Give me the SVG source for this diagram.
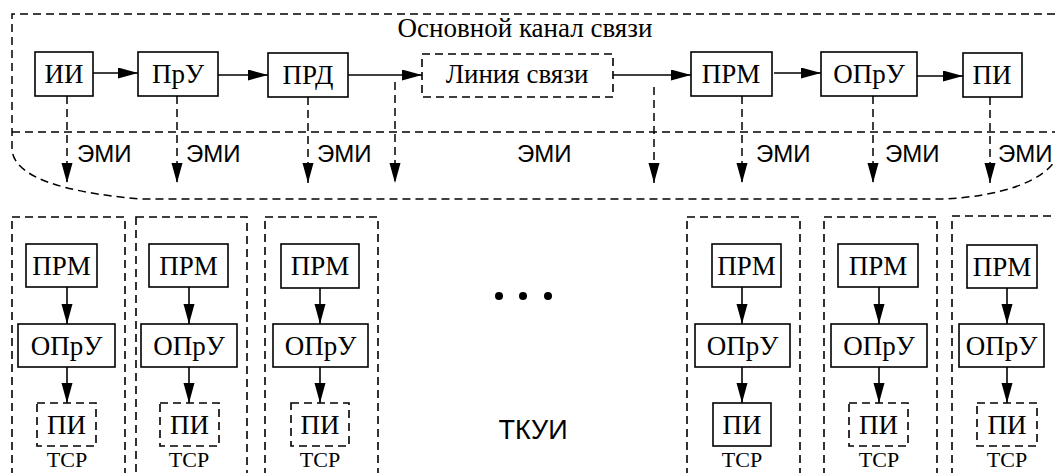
<svg xmlns="http://www.w3.org/2000/svg" width="1055" height="473" viewBox="0 0 1055 473">
<style>
.bx{fill:#fff;stroke:#000;stroke-width:1.6}
.dbx{fill:#fff;stroke:#000;stroke-width:1.6;stroke-dasharray:8 5}
.col{fill:none;stroke:#000;stroke-width:1.6;stroke-dasharray:8 5}
.dl{fill:none;stroke:#000;stroke-width:1.5;stroke-dasharray:8 5}
.ln{fill:none;stroke:#000;stroke-width:1.6}
.t{font-family:"Liberation Serif","Times New Roman","DejaVu Serif",serif;font-size:27px;text-anchor:middle;fill:#000}
.s{font-family:"Liberation Sans",Arial,sans-serif;font-size:24px;fill:#000}
.tc{font-family:"Liberation Serif","Times New Roman","DejaVu Serif",serif;font-size:22px;text-anchor:middle;fill:#000}
</style>
<defs>
<marker id="ah" markerUnits="userSpaceOnUse" markerWidth="20" markerHeight="12" refX="20" refY="5.5" orient="auto">
<path d="M0,0 L20,5.5 L0,11 z" fill="#000"/>
</marker>
</defs>
<rect width="1055" height="473" fill="#fff"/>
<g id="main-channel">
<path class="dl" d="M1055,14 H12 V148 C12,176 60,192 140,199 H945 C1000,196 1045,182 1058,156"/>
<path class="dl" d="M12,132 H1055"/>
<text class="t" x="525" y="37">Основной канал связи</text>
</g>
<g id="connectors">
<path class="ln" d="M93,73 H138" marker-end="url(#ah)"/>
<path class="ln" d="M218,75 H268" marker-end="url(#ah)"/>
<path class="ln" d="M348,75 H422" marker-end="url(#ah)"/>
<path class="ln" d="M613,75 H691" marker-end="url(#ah)"/>
<path class="ln" d="M774,73 H821" marker-end="url(#ah)"/>
<path class="ln" d="M917,76 H963" marker-end="url(#ah)"/>
<path class="dl" d="M67,96 V183" marker-end="url(#ah)"/>
<path class="dl" d="M177,96 V183" marker-end="url(#ah)"/>
<path class="dl" d="M308,97 V183" marker-end="url(#ah)"/>
<path class="dl" d="M395,82 V183" marker-end="url(#ah)"/>
<path class="dl" d="M654,87 V183" marker-end="url(#ah)"/>
<path class="dl" d="M742,96 V183" marker-end="url(#ah)"/>
<path class="dl" d="M873,96 V183" marker-end="url(#ah)"/>
<path class="dl" d="M990,97 V183" marker-end="url(#ah)"/>
<path class="ln" d="M67,287 V324" marker-end="url(#ah)"/>
<path class="ln" d="M67,367 V403" marker-end="url(#ah)"/>
<path class="ln" d="M189,287 V324" marker-end="url(#ah)"/>
<path class="ln" d="M189,367 V403" marker-end="url(#ah)"/>
<path class="ln" d="M320,288 V324" marker-end="url(#ah)"/>
<path class="ln" d="M320,367 V403" marker-end="url(#ah)"/>
<path class="ln" d="M742,287 V324" marker-end="url(#ah)"/>
<path class="ln" d="M742,367 V403" marker-end="url(#ah)"/>
<path class="ln" d="M879,287 V324" marker-end="url(#ah)"/>
<path class="ln" d="M879,367 V403" marker-end="url(#ah)"/>
<path class="ln" d="M1007,288 V324" marker-end="url(#ah)"/>
<path class="ln" d="M1007,367 V403" marker-end="url(#ah)"/>
</g>
<g id="emi-labels">
<text class="s" x="77" y="162">ЭМИ</text>
<text class="s" x="186" y="162">ЭМИ</text>
<text class="s" x="317" y="162">ЭМИ</text>
<text class="s" x="517" y="162">ЭМИ</text>
<text class="s" x="756" y="162">ЭМИ</text>
<text class="s" x="885" y="162">ЭМИ</text>
<text class="s" x="998" y="162">ЭМИ</text>
</g>
<g id="n-ii"><rect class="bx" x="35" y="52" width="58" height="44"/><text class="t" x="64" y="83">ИИ</text></g>
<g id="n-pru"><rect class="bx" x="138" y="52" width="80" height="44"/><text class="t" x="178" y="83">ПрУ</text></g>
<g id="n-prd"><rect class="bx" x="268" y="53" width="80" height="44"/><text class="t" x="308" y="84">ПРД</text></g>
<g id="n-line"><rect class="dbx" x="422" y="54" width="191" height="43"/><text class="t" x="517" y="83">Линия связи</text></g>
<g id="n-prm"><rect class="bx" x="691" y="52" width="81" height="44"/><text class="t" x="731" y="83">ПРМ</text></g>
<g id="n-opru"><rect class="bx" x="821" y="52" width="96" height="44"/><text class="t" x="869" y="83">ОПрУ</text></g>
<g id="n-pi"><rect class="bx" x="963" y="53" width="59" height="44"/><text class="t" x="992" y="84">ПИ</text></g>
<g id="col1">
<rect class="col" x="12" y="217" width="113" height="270"/>
<rect class="bx" x="26" y="244" width="71" height="43"/><text class="t" x="61.5" y="275">ПРМ</text>
<rect class="bx" x="18" y="324" width="97" height="43"/><text class="t" x="66.5" y="355">ОПрУ</text>
<rect class="dbx" x="37" y="403" width="59" height="43"/><text class="t" x="66.5" y="434">ПИ</text>
<text class="tc" x="67" y="467">ТСР</text>
</g>
<g id="col2">
<rect class="col" x="136" y="217" width="111" height="270"/>
<rect class="bx" x="149" y="244" width="79" height="43"/><text class="t" x="188.5" y="275">ПРМ</text>
<rect class="bx" x="141" y="324" width="96" height="43"/><text class="t" x="189" y="355">ОПрУ</text>
<rect class="dbx" x="160" y="403" width="59" height="43"/><text class="t" x="189.5" y="434">ПИ</text>
<text class="tc" x="189" y="467">ТСР</text>
</g>
<g id="col3">
<rect class="col" x="265" y="217" width="113" height="270"/>
<rect class="bx" x="281" y="244" width="78" height="44"/><text class="t" x="320" y="275">ПРМ</text>
<rect class="bx" x="273" y="324" width="95" height="43"/><text class="t" x="320.5" y="355">ОПрУ</text>
<rect class="dbx" x="291" y="403" width="58" height="43"/><text class="t" x="320" y="434">ПИ</text>
<text class="tc" x="320" y="467">ТСР</text>
</g>
<g id="tkui">
<circle cx="499" cy="296" r="4"/><circle cx="523" cy="296" r="4"/><circle cx="548" cy="296" r="4"/>
<text class="s" x="533" y="439" style="font-size:27px;text-anchor:middle">ТКУИ</text>
</g>
<g id="col4">
<rect class="col" x="687" y="217" width="113" height="270"/>
<rect class="bx" x="712" y="244" width="69" height="43"/><text class="t" x="746.5" y="275">ПРМ</text>
<rect class="bx" x="695" y="324" width="95" height="43"/><text class="t" x="742.5" y="355">ОПрУ</text>
<rect class="bx" x="713" y="403" width="58" height="43"/><text class="t" x="742" y="434">ПИ</text>
<text class="tc" x="742" y="467">ТСР</text>
</g>
<g id="col5">
<rect class="col" x="824" y="217" width="113" height="270"/>
<rect class="bx" x="838" y="244" width="80" height="43"/><text class="t" x="878" y="275">ПРМ</text>
<rect class="bx" x="831" y="324" width="96" height="43"/><text class="t" x="879" y="355">ОПрУ</text>
<rect class="dbx" x="849" y="403" width="59" height="43"/><text class="t" x="878.5" y="434">ПИ</text>
<text class="tc" x="879" y="467">ТСР</text>
</g>
<g id="col6">
<rect class="col" x="952" y="216" width="120" height="270"/>
<rect class="bx" x="967" y="245" width="70" height="43"/><text class="t" x="1002" y="276">ПРМ</text>
<rect class="bx" x="959" y="324" width="85" height="43"/><text class="t" x="1001.5" y="355">ОПрУ</text>
<rect class="dbx" x="977" y="403" width="60" height="43"/><text class="t" x="1007" y="434">ПИ</text>
<text class="tc" x="1007" y="467">ТСР</text>
</g>
</svg>
